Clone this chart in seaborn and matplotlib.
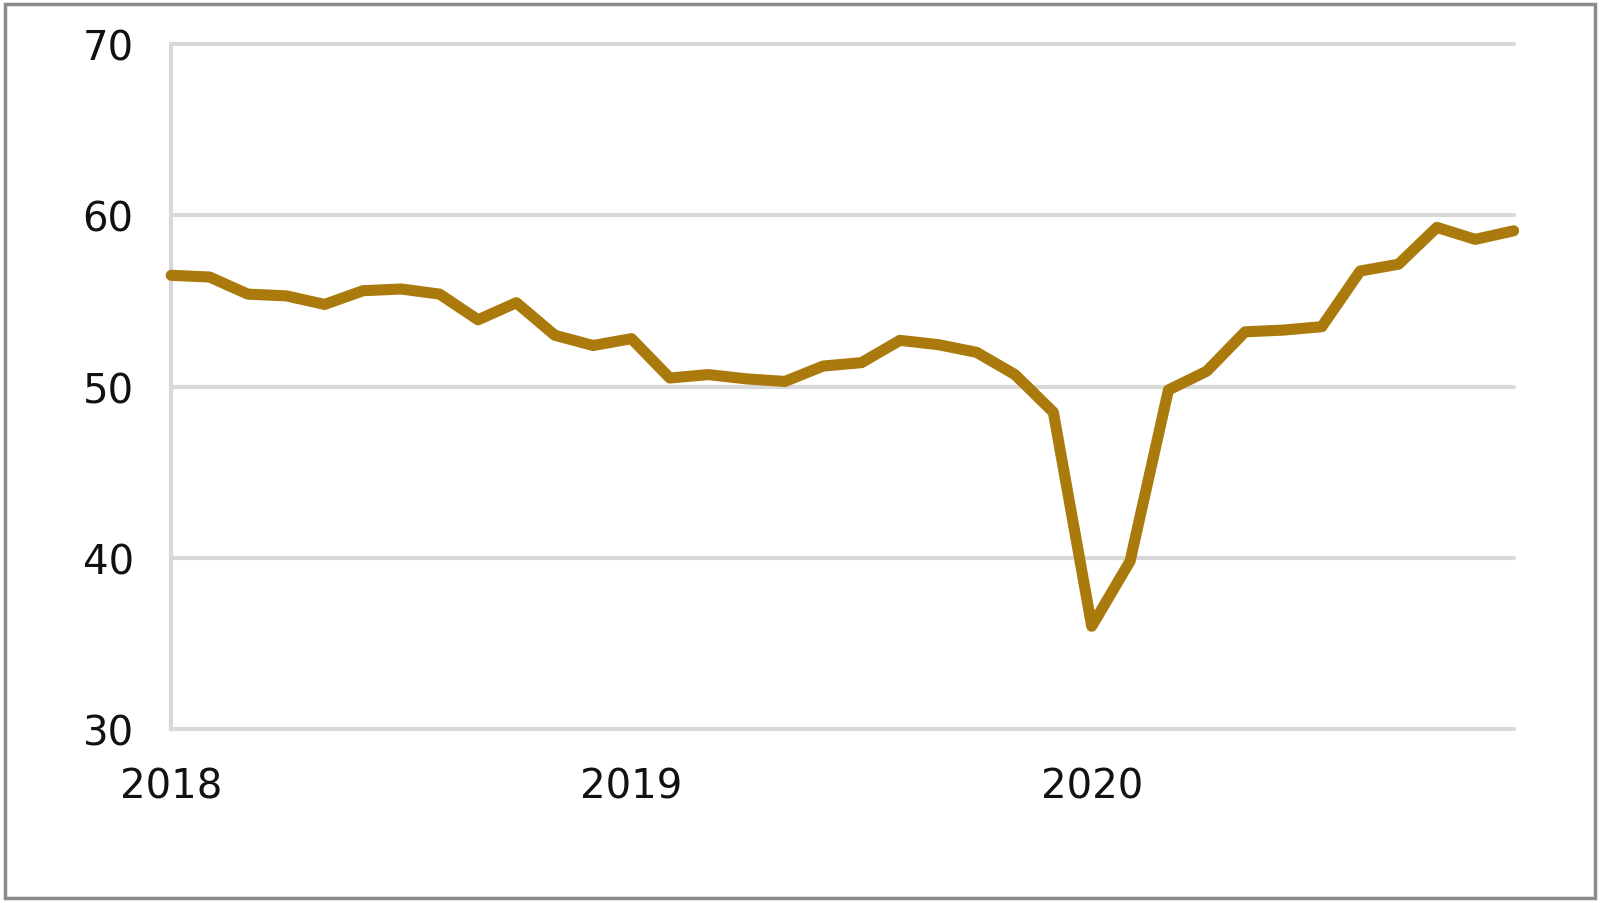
import numpy as np
import pandas as pd
import matplotlib
matplotlib.use("Agg")
import matplotlib.pyplot as plt
import seaborn as sns
from matplotlib.patches import Rectangle

# monthly values, Jan 2018 - Dec 2020
months = [f"{y}-{m:02d}" for y in (2018, 2019, 2020) for m in range(1, 13)]
values = [56.5, 56.4, 55.4, 55.3, 54.8, 55.6, 55.7, 55.4, 53.9, 54.9, 53.0, 52.4,
          52.8, 50.5, 50.7, 50.45, 50.3, 51.2, 51.4, 52.7, 52.45, 52.0, 50.7, 48.5,
          36.0, 39.8, 49.8, 50.9, 53.2, 53.3, 53.5, 56.75, 57.15, 59.3, 58.6, 59.1]
year_ticks = [0, 12, 24]
year_labels = ["2018", "2019", "2020"]
y_ticks = [30, 40, 50, 60, 70]

df = pd.DataFrame({"idx": range(len(values)), "month": months, "value": values})

sns.set_style("white")
plt.rcParams['font.family'] = ['DejaVu Sans']

fig = plt.figure(figsize=(16, 9.04), dpi=100)
ax = fig.add_axes([0.107, 0.1925, 0.839, 0.7575])

grid_c = "#d9d9d9"
for v in y_ticks:
    ax.axhline(v, color=grid_c, lw=3, zorder=1, clip_on=False)

sns.lineplot(data=df, x="idx", y="value", ax=ax, color="#ab7a0c", linewidth=8,
             zorder=3, clip_on=False)

ax.set_xlim(0, len(values) - 1)
ax.set_ylim(30, 70)
ax.set_xticks(year_ticks)
ax.set_xticklabels(year_labels)
ax.set_yticks(y_ticks)
ax.set_xlabel("")
ax.set_ylabel("")

for s in ["top", "right", "bottom"]:
    ax.spines[s].set_visible(False)
ax.spines["left"].set_color(grid_c)
ax.spines["left"].set_linewidth(3)
ax.spines["left"].set_zorder(1)

ax.tick_params(axis="y", length=9, width=2.2, color=grid_c, pad=18,
               labelsize=29, labelcolor="#111111")
ax.tick_params(axis="x", length=9, width=2.2, color=grid_c, pad=18,
               labelsize=29, labelcolor="#111111")

# grey outer frame
fig.patches.append(Rectangle((0.003, 0.0055), 0.994, 0.989, transform=fig.transFigure,
                             fill=False, edgecolor="#8c8c8c", lw=2.5))

fig.savefig("out.png", dpi=100, facecolor="white")
